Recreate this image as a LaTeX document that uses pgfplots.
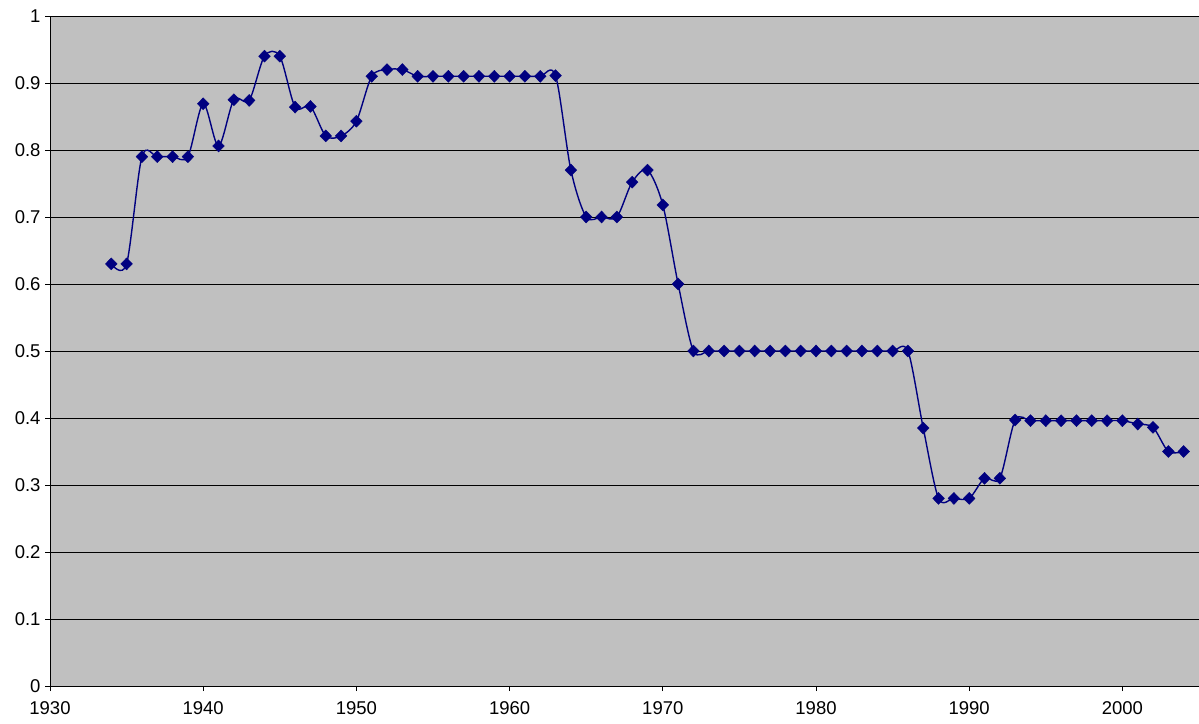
\documentclass[border=0pt]{standalone}
\usepackage{pgfplots}
\pgfplotsset{compat=1.18}
\usepackage{fontspec}
\setmainfont{Liberation Sans}
\definecolor{plotbg}{HTML}{C0C0C0}
\definecolor{navy}{HTML}{000080}
\begin{document}
\begin{tikzpicture}
\begin{axis}[
  scale only axis, width=1149pt, height=670pt,
  xmin=1930, xmax=2005, ymin=0, ymax=1,
  axis background/.style={fill=plotbg},
  axis x line*=bottom, axis y line*=left,
  axis line style={black, line width=0.8pt},
  xtick={1930,1940,...,2000},
  ytick={0,0.1,...,1.0},
  yticklabels={0,0.1,0.2,0.3,0.4,0.5,0.6,0.7,0.8,0.9,1},
  tick align=outside, tick style={black, line width=0.8pt},
  major tick length=5pt,
  ymajorgrids, grid style={black, line width=0.7pt},
  /pgf/number format/assume math mode=true,
  /pgf/number format/1000 sep={},
  xticklabel style={font=\fontsize{18.5pt}{22pt}\selectfont, yshift=-7pt},
  yticklabel style={font=\fontsize{18.5pt}{22pt}\selectfont, xshift=-1pt},
]
\addplot[navy, line width=1.4pt, smooth, tension=0.5, mark=diamond*, mark size=6pt, mark options={fill=navy, draw=navy, line width=0.4pt, xscale=1.3}] coordinates {
(1934,0.630) (1935,0.630) (1936,0.790) (1937,0.790) (1938,0.790) (1939,0.790)
(1940,0.869) (1941,0.806) (1942,0.875) (1943,0.874) (1944,0.940) (1945,0.940)
(1946,0.864) (1947,0.865) (1948,0.821) (1949,0.821) (1950,0.843) (1951,0.910)
(1952,0.920) (1953,0.920) (1954,0.910) (1955,0.910) (1956,0.910) (1957,0.910)
(1958,0.910) (1959,0.910) (1960,0.910) (1961,0.910) (1962,0.910) (1963,0.911)
(1964,0.770) (1965,0.700) (1966,0.700) (1967,0.700) (1968,0.752) (1969,0.770)
(1970,0.718) (1971,0.600) (1972,0.500) (1973,0.500) (1974,0.500) (1975,0.500)
(1976,0.500) (1977,0.500) (1978,0.500) (1979,0.500) (1980,0.500) (1981,0.500)
(1982,0.500) (1983,0.500) (1984,0.500) (1985,0.500) (1986,0.500) (1987,0.385)
(1988,0.280) (1989,0.280) (1990,0.280) (1991,0.310) (1992,0.310) (1993,0.397)
(1994,0.396) (1995,0.396) (1996,0.396) (1997,0.396) (1998,0.396) (1999,0.396)
(2000,0.396) (2001,0.391) (2002,0.386) (2003,0.350) (2004,0.350)
};
\end{axis}
\pgfresetboundingbox
\path (current axis.south west) ++(-50pt,-37pt) rectangle ([yshift=16pt]current axis.north east);
\end{tikzpicture}
\end{document}
